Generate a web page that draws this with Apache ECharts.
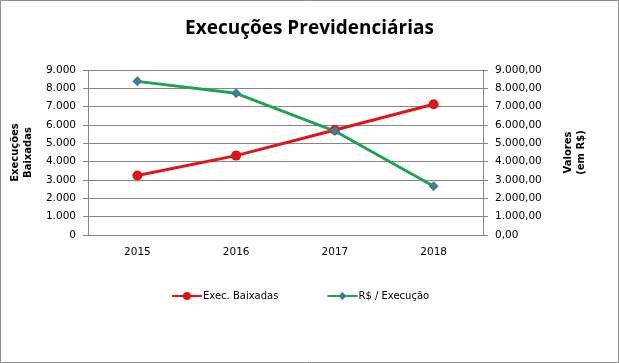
<!DOCTYPE html>
<html><head><meta charset="utf-8">
<script src="https://cdn.jsdelivr.net/npm/echarts@6/dist/echarts.min.js"></script>
<style>html,body{margin:0;padding:0;background:#fff}#c{width:619px;height:363px}</style>
</head><body><div id="c"></div>
<script>
var categories = ['2015', '2016', '2017', '2018'];
var execBaixadas = [3250, 4330, 5730, 7130];
var valorExecucao = [8380, 7730, 5670, 2660];
var leftTicks = [0, 1000, 2000, 3000, 4000, 5000, 6000, 7000, 8000, 9000];

function fmtInt(v){ return String(Math.round(v)).replace(/\B(?=(\d{3})+(?!\d))/g, '.'); }
function fmtDec(v){ return fmtInt(v) + ',00'; }

var font = 'DejaVu Sans';
var chart = echarts.init(document.getElementById('c'), null, {renderer:'canvas'});
chart.setOption({
  animation: false,
  backgroundColor: '#fff',
  graphic: [{type: 'rect', silent: true, shape: {x: 0.5, y: 0.5, width: 618, height: 362},
    style: {fill: 'none', stroke: '#8c8c8c', lineWidth: 1}}],
  title: {text: 'Execuções Previdenciárias', left: 'center', top: 14,
    textStyle: {fontFamily: 'Open Sans', fontWeight: 'bold', fontSize: 19, color: '#000'}},
  grid: {left: 88, right: 136, top: 70, bottom: 128, containLabel: false, outerBoundsMode: 'none'},
  legend: {top: 286, left: 166, itemGap: 48, itemWidth: 30, itemHeight: 10,
    textStyle: {fontFamily: font, fontSize: 10, color: '#000', padding: [0,0,0,-4]},
    data: ['Exec. Baixadas', 'R$ / Execução']},
  xAxis: {type: 'category', data: categories, boundaryGap: true,
    axisLine: {lineStyle: {color: '#868686'}}, axisTick: {show: false},
    axisLabel: {fontFamily: font, fontSize: 10.5, color: '#000', margin: 12}},
  yAxis: [
    {type: 'value', min: 0, max: 9000, interval: 1000,
     name: 'Execuções\nBaixadas', nameLocation: 'middle', nameRotate: 90, nameGap: 51,
     nameTextStyle: {fontFamily: font, fontWeight: 'bold', fontSize: 10, color: '#000', lineHeight: 13},
     axisLine: {show: true, lineStyle: {color: '#868686'}},
     axisTick: {show: true, length: 5, lineStyle: {color: '#868686'}},
     splitLine: {lineStyle: {color: '#868686'}},
     axisLabel: {fontFamily: font, fontSize: 10.5, color: '#000', margin: 12, formatter: fmtInt}},
    {type: 'value', min: 0, max: 9000, interval: 1000, position: 'right',
     name: 'Valores\n(em R$)', nameLocation: 'middle', nameRotate: 90, nameGap: 79,
     nameTextStyle: {fontFamily: font, fontWeight: 'bold', fontSize: 10, color: '#000', lineHeight: 13},
     axisLine: {show: true, lineStyle: {color: '#868686'}},
     axisTick: {show: true, length: 5, lineStyle: {color: '#868686'}},
     splitLine: {show: false},
     axisLabel: {fontFamily: font, fontSize: 10.5, color: '#000', margin: 12, formatter: fmtDec}}
  ],
  series: [
    {name: 'Exec. Baixadas', type: 'line', yAxisIndex: 0, data: execBaixadas,
     symbol: 'circle', symbolSize: 10, lineStyle: {color: '#e3131a', width: 3},
     itemStyle: {color: '#e3131a'}},
    {name: 'R$ / Execução', type: 'line', yAxisIndex: 1, data: valorExecucao,
     symbol: 'diamond', symbolSize: 10, lineStyle: {color: '#1ea350', width: 3},
     itemStyle: {color: '#3f7d95'}}
  ]
});
</script></body></html>
